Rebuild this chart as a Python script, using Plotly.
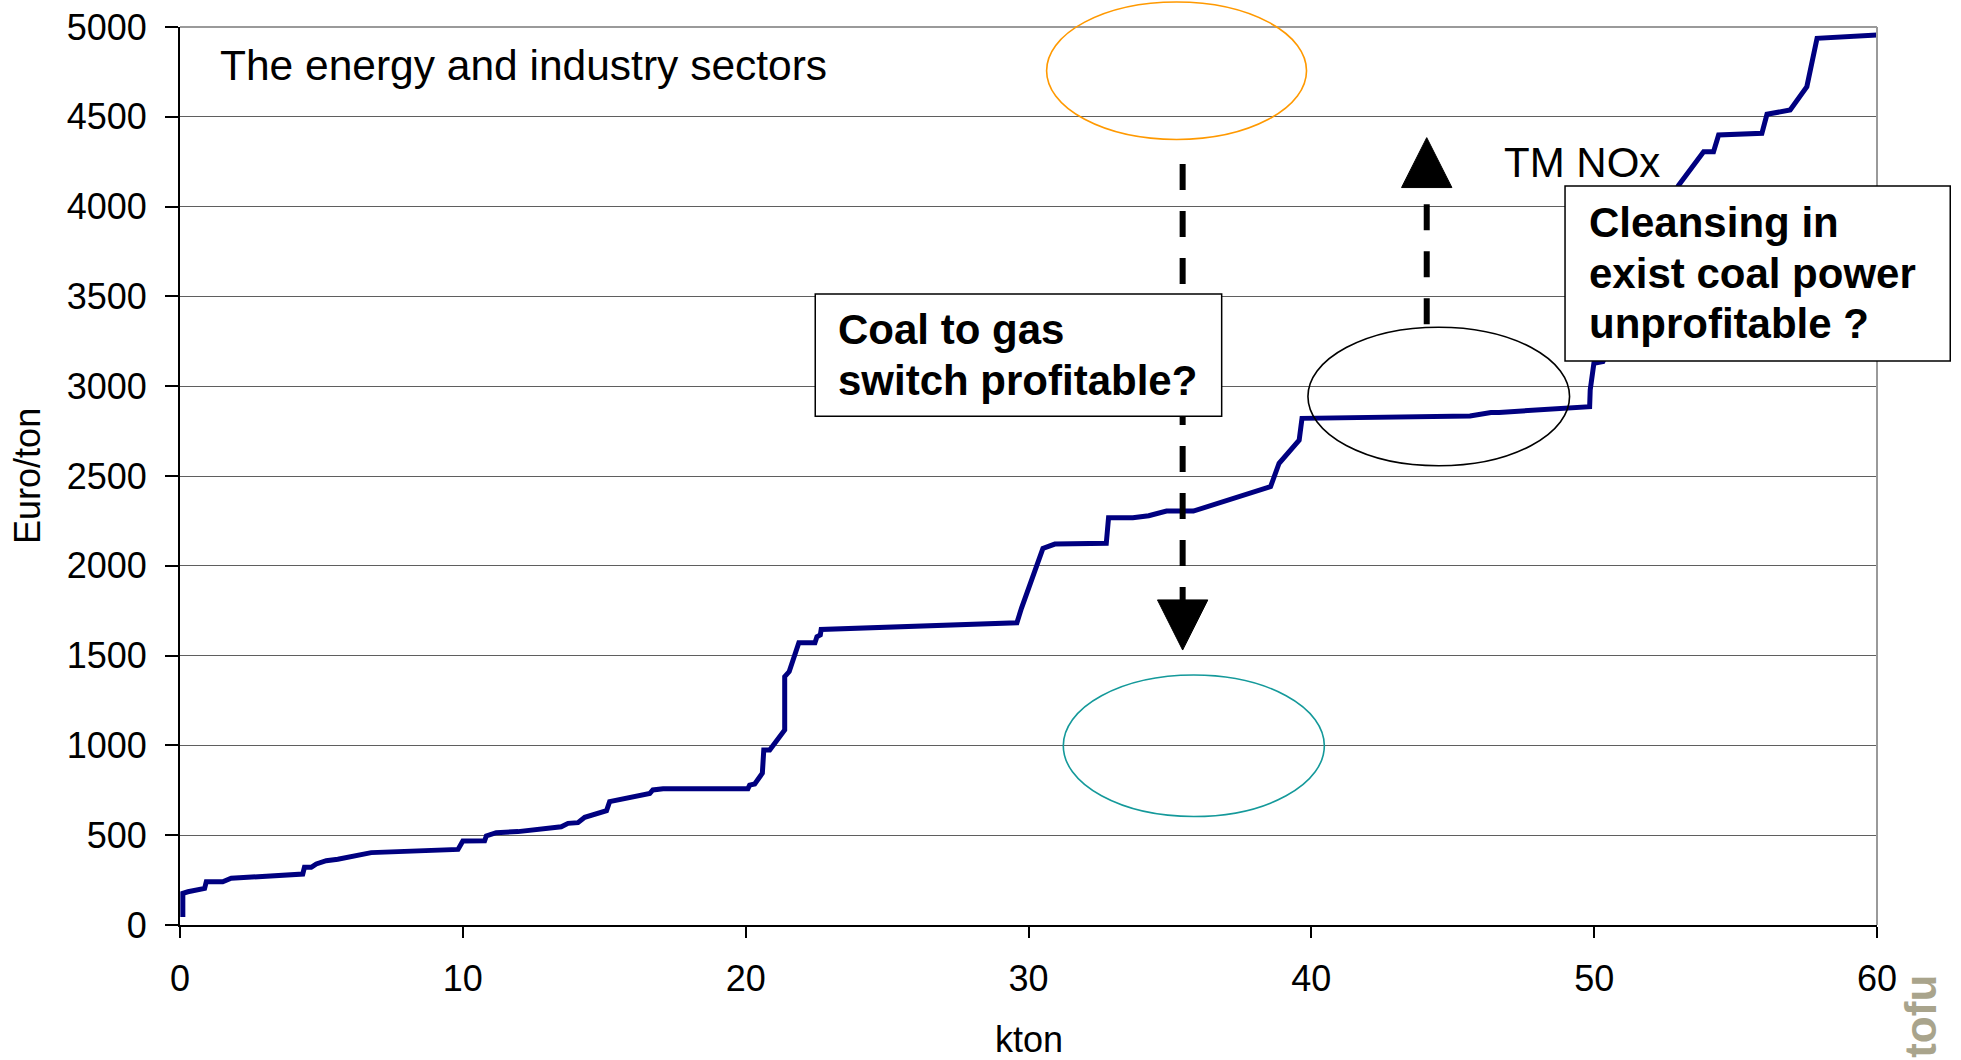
import plotly.graph_objects as go

# Marginal abatement cost curve for NOx, energy and industry sectors
kton = [0.1, 0.1, 0.28, 0.87, 0.93, 1.51, 1.81, 4.34, 4.4, 4.64,
        4.82, 5.17, 5.58, 6.41, 6.76, 9.83, 10.0, 10.77, 10.83, 11.18,
        11.95, 13.48, 13.72, 14.07, 14.31, 15.08, 15.19, 16.61, 16.72, 17.08,
        20.08, 20.14, 20.32, 20.59, 20.64, 20.85, 21.38, 21.38, 21.54, 21.88,
        22.45, 22.52, 22.64, 22.67, 29.59, 29.75, 30.51, 30.93, 32.75, 32.83,
        33.69, 34.25, 34.88, 35.83, 38.56, 38.86, 39.57, 39.67, 45.61, 46.35,
        46.64, 49.84, 49.86, 49.99, 50.31, 52.98, 53.87, 54.22, 54.4, 55.93,
        56.11, 56.93, 57.52, 57.88, 60.0]
euro_per_ton = [45, 176, 185, 204, 241, 241, 260, 284, 321, 321,
                340, 358, 366, 390, 403, 421, 468, 469, 496, 514,
                520, 547, 566, 570, 600, 636, 687, 733, 752, 759,
                759, 779, 785, 845, 974, 974, 1086, 1383, 1411, 1572,
                1572, 1605, 1615, 1646, 1683, 1763, 2097, 2121, 2125, 2268,
                2268, 2279, 2305, 2305, 2441, 2571, 2700, 2821, 2834, 2854,
                2854, 2886, 2979, 3127, 3137, 4117, 4306, 4306, 4399, 4408,
                4514, 4538, 4668, 4937, 4955]

x_ticks = [0, 10, 20, 30, 40, 50, 60]
y_ticks = [0, 500, 1000, 1500, 2000, 2500, 3000, 3500, 4000, 4500, 5000]

coal_lines = ["Coal to gas", "switch profitable?"]
cleansing_lines = ["Cleansing in", "exist coal power", "unprofitable ?"]

X_RANGE = [0, 60]
Y_RANGE = [0, 5000]

FONT = "Liberation Sans, Arial, sans-serif"
W, H = 1961, 1060
M = dict(l=180, r=84, t=27, b=135)
LINE_STEP = 282  # spacing of callout text lines, in Euro/ton units


def px(x):
    return (x - X_RANGE[0]) / (X_RANGE[1] - X_RANGE[0])


def py(y):
    return (y - Y_RANGE[0]) / (Y_RANGE[1] - Y_RANGE[0])


def paper_shape(kind, x0, y0, x1, y1, **kw):
    return dict(type=kind, xref="paper", yref="paper",
                x0=px(x0), x1=px(x1), y0=py(y0), y1=py(y1), layer="above", **kw)


def triangle(x_mid, y_base, y_tip, half_w):
    path = "M {a},{b} L {c},{b} L {m},{t} Z".format(
        a=px(x_mid - half_w), c=px(x_mid + half_w), b=py(y_base),
        m=px(x_mid), t=py(y_tip))
    return dict(type="path", xref="paper", yref="paper", path=path,
                fillcolor="black", line=dict(color="black", width=1), layer="above")


def callout_text(lines, x_left, y_first):
    out = []
    for i, line in enumerate(lines):
        out.append(dict(x=x_left, y=y_first - i * LINE_STEP, xref="x", yref="y",
                        text="<b>" + line + "</b>", showarrow=False,
                        xanchor="left", yanchor="middle",
                        font=dict(size=42, color="black", family=FONT)))
    return out


fig = go.Figure()
fig.add_trace(go.Scatter(x=kton, y=euro_per_ton, mode="lines",
                         line=dict(color="#000080", width=5), hoverinfo="skip",
                         showlegend=False))

shapes = []
# plot-area frame (top / right)
shapes.append(dict(type="line", xref="paper", yref="paper", x0=0, x1=1, y0=1, y1=1,
                   line=dict(color="#9a9a9a", width=2), layer="above"))
shapes.append(dict(type="line", xref="paper", yref="paper", x0=1, x1=1, y0=0, y1=1,
                   line=dict(color="#9a9a9a", width=2), layer="above"))

# highlight ellipses
shapes.append(paper_shape("circle", 30.64, 4374, 39.83, 5139,
                          line=dict(color="#FF9900", width=1.6)))
shapes.append(paper_shape("circle", 31.23, 604, 40.46, 1392,
                          line=dict(color="#14999a", width=1.6)))
shapes.append(paper_shape("circle", 39.88, 2557, 49.13, 3328,
                          line=dict(color="black", width=1.6)))

# dashed arrows
DASH = "26px,21px"
shapes.append(paper_shape("line", 35.45, 4237, 35.45, 1810,
                          line=dict(color="black", width=6, dash=DASH)))
shapes.append(triangle(35.45, 1810, 1531, 0.89))
shapes.append(paper_shape("line", 44.08, 3345, 44.08, 4106,
                          line=dict(color="black", width=6, dash=DASH)))
shapes.append(triangle(44.08, 4106, 4384, 0.89))

# callout boxes
shapes.append(paper_shape("rect", 22.46, 2832, 36.83, 3514, fillcolor="white",
                          line=dict(color="black", width=1.5)))
shapes.append(paper_shape("rect", 48.97, 3140, 62.59, 4115, fillcolor="white",
                          line=dict(color="black", width=1.5)))

annotations = [
    dict(x=1.36, y=4783, xref="x", yref="y", text="The energy and industry sectors",
         showarrow=False, xanchor="left", yanchor="middle",
         font=dict(size=42.5, color="black", family=FONT)),
    dict(x=46.75, y=4245, xref="x", yref="y", text="TM NOx",
         showarrow=False, xanchor="left", yanchor="middle",
         font=dict(size=42, color="black", family=FONT)),
    dict(x=0.5, y=-0.128, xref="paper", yref="paper", text="kton",
         showarrow=False, xanchor="center", yanchor="middle",
         font=dict(size=36, color="black", family=FONT)),
    dict(x=-0.0902, y=0.5, xref="paper", yref="paper", text="Euro/ton",
         showarrow=False, xanchor="center", yanchor="middle", textangle=-90,
         font=dict(size=36, color="black", family=FONT)),
    dict(x=1.0255, y=-0.1019, xref="paper", yref="paper", text="<b>tofu</b>",
         showarrow=False, xanchor="center", yanchor="middle", textangle=-90,
         font=dict(size=44, color="#a9a48c", family=FONT)),
]
annotations += callout_text(coal_lines, 23.21, 3316)
annotations += callout_text(cleansing_lines, 49.75, 3912)

fig.update_layout(
    width=W, height=H, margin=M,
    paper_bgcolor="white", plot_bgcolor="white",
    font=dict(family=FONT, color="black"),
    shapes=shapes, annotations=annotations, showlegend=False,
    xaxis=dict(range=X_RANGE, tickvals=x_ticks, ticktext=[str(v) for v in x_ticks],
               showgrid=False, zeroline=False, showline=True, automargin=False,
               linecolor="black", linewidth=2, ticks="outside", ticklen=11,
               tickwidth=1.5, tickcolor="black", ticklabelstandoff=10,
               tickfont=dict(size=36, family=FONT, color="black")),
    yaxis=dict(range=Y_RANGE, tickvals=y_ticks, ticktext=[str(v) for v in y_ticks],
               showgrid=True, gridcolor="#5f5f5f", gridwidth=1.2, zeroline=False,
               showline=True, automargin=False, linecolor="black", linewidth=2,
               ticks="outside", ticklen=13, tickwidth=1.5, tickcolor="black",
               ticklabelstandoff=11,
               tickfont=dict(size=36, family=FONT, color="black")),
)

fig.write_html("out.html")
